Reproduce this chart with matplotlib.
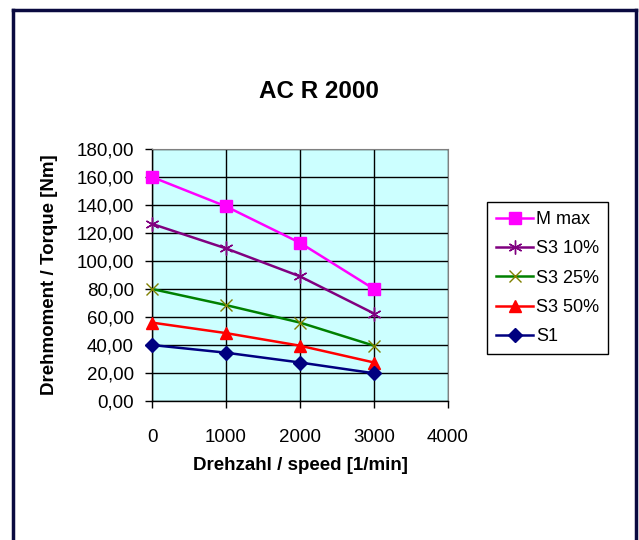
import matplotlib
matplotlib.use("Agg")
import matplotlib.pyplot as plt
from matplotlib.lines import Line2D

plt.rcParams['font.family'] = ['Liberation Sans', 'DejaVu Sans']

speed = [0, 1000, 2000, 3000]
m_max = [160, 139, 113, 80]
s3_10 = [126.5, 109, 89, 62.5]
s3_25 = [80, 68.5, 56, 39.5]
s3_50 = [56, 48.5, 39.5, 27.5]
s1 = [40, 34.5, 27.5, 19.8]

W, H = 639, 540
fig = plt.figure(figsize=(W / 100, H / 100), dpi=100)
fig.patch.set_facecolor('white')

ax = fig.add_axes([152 / W, 1 - 401 / H, (448 - 152) / W, (401 - 149) / H])
ax.set_facecolor('#CCFFFF')

ax.plot(speed, m_max, color='#FF00FF', lw=1.8, marker='s', ms=8, mfc='#FF00FF', mec='#FF00FF', label='M max', clip_on=False, zorder=5)
ax.plot(speed, s3_10, color='#800080', lw=1.8, marker=(6, 2, 0), ms=10, mec='#800080', mew=1, label='S3 10%', clip_on=False, zorder=5)
ax.plot(speed, s3_25, color='#008000', lw=1.8, marker='x', ms=8.5, mec='#808000', mew=1, label='S3 25%', clip_on=False, zorder=5)
ax.plot(speed, s3_50, color='#FF0000', lw=1.8, marker='^', ms=8.5, mfc='#FF0000', mec='#FF0000', label='S3 50%', clip_on=False, zorder=5)
ax.plot(speed, s1, color='#000080', lw=1.8, marker='D', ms=7, mfc='#000080', mec='#000080', label='S1', clip_on=False, zorder=5)

ax.set_xlim(0, 4000)
ax.set_ylim(0, 180)
ax.set_xticks([0, 1000, 2000, 3000, 4000])
ax.set_yticks(range(0, 181, 20))
ax.set_yticklabels([f"{v},00" for v in range(0, 181, 20)])
ax.grid(True, color='black', lw=1)
ax.set_axisbelow(True)
ax.tick_params(direction='out', length=5, width=1, labelsize=13.5, colors='black')
ax.tick_params(axis='y', pad=8)
ax.tick_params(axis='x', pad=15)
for side in ['top', 'right']:
    ax.spines[side].set_color('#808080')
for side in ['left', 'bottom']:
    ax.spines[side].set_color('black')
    ax.spines[side].set_linewidth(1)

ax.set_xlabel('Drehzahl / speed [1/min]', fontsize=13.5, fontweight='bold')
ax.set_ylabel('Drehmoment / Torque [Nm]', fontsize=13.5, fontweight='bold')
ax.xaxis.set_label_coords(0.503, (401 - 465) / 252)
ax.xaxis.label.set_va('center')
ax.yaxis.set_label_coords((50 - 152) / 296, 0.5)
ax.yaxis.label.set_va('center')

fig.text(319 / W, 1 - 92 / H, 'AC R 2000', fontsize=17.5, fontweight='bold', ha='center', va='center')

leg = ax.legend(loc='upper left', bbox_to_anchor=(487 / W, 1 - 202 / H), bbox_transform=fig.transFigure,
                fontsize=13, frameon=True, fancybox=False, edgecolor='black', framealpha=1,
                handlelength=2.05, borderpad=0.5, labelspacing=0.68, handletextpad=0.15, borderaxespad=0)
leg.get_frame().set_linewidth(1)

# outer navy border (open at bottom)
bc = '#0A0A40'
fig.add_artist(Line2D([12.5 / W, 12.5 / W], [0, 1 - 9.5 / H], color=bc, lw=2.5, transform=fig.transFigure))
fig.add_artist(Line2D([635.5 / W, 635.5 / W], [0, 1 - 9.5 / H], color=bc, lw=2.5, transform=fig.transFigure))
fig.add_artist(Line2D([12.5 / W, 635.5 / W], [1 - 9.5 / H, 1 - 9.5 / H], color=bc, lw=2.5, transform=fig.transFigure))

fig.savefig('out.png', dpi=100, facecolor='white')
